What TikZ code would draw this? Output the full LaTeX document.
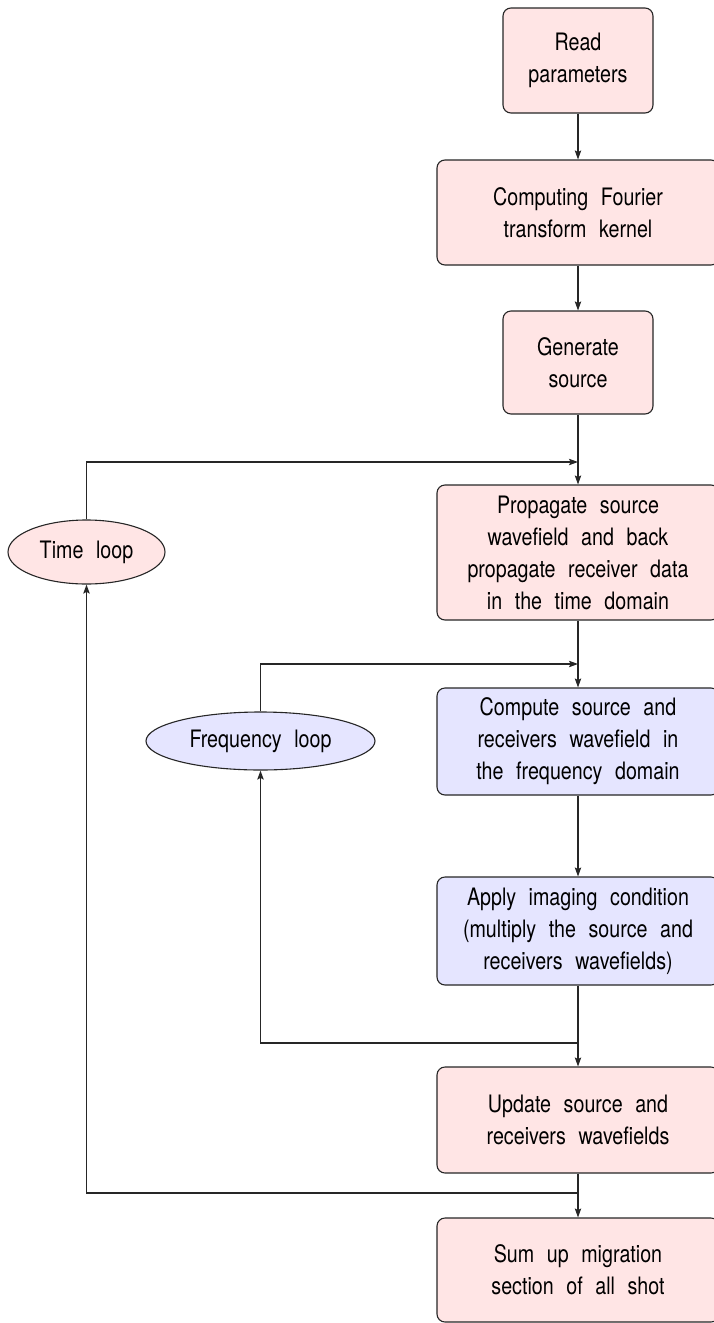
\documentclass[tikz,border=0pt]{standalone}
\usepackage{fontspec}
\setmainfont{TeX Gyre Heros}[FakeStretch=0.82,WordSpace=2.3]
\usetikzlibrary{shapes.geometric,arrows.meta}
\begin{document}
\begin{tikzpicture}[x=0.5pt,y=-0.5pt,
  font=\fontsize{12}{16}\selectfont,
  arr/.style={draw=black!85, line width=0.55pt, -{Stealth[length=4.5pt,width=3.2pt,inset=0.8pt]}},
  pbox/.style={rectangle, rounded corners=4pt, draw=black!85, line width=0.55pt, fill=red!10, align=center, inner sep=0pt},
  bbox/.style={pbox, fill=blue!10},
  loopell/.style={ellipse, draw=black!85, line width=0.55pt, inner sep=0pt}
]
\useasboundingbox (0,0) rectangle (713,1323);
\node[pbox, minimum width=75pt, minimum height=52.5pt] (b1) at (578,60.5) {Read\\parameters};
\node[pbox, minimum width=141pt, minimum height=52.5pt] (b2) at (578,212.5) {Computing Fourier\\transform kernel};
\node[pbox, minimum width=75pt, minimum height=51.5pt] (b3) at (578,362.5) {Generate\\source};
\node[pbox, minimum width=141pt, minimum height=67.5pt] (b4) at (578,552.5) {Propagate source\\wavefield and back\\propagate receiver data\\in the time domain};
\node[bbox, minimum width=141pt, minimum height=53.5pt] (b5) at (578,741.5) {Compute source and\\receivers wavefield in\\the frequency domain};
\node[bbox, minimum width=141pt, minimum height=54pt] (b6) at (578,931) {Apply imaging condition\\(multiply the source and\\receivers wavefields)};
\node[pbox, minimum width=141pt, minimum height=53pt] (b7) at (578,1120) {Update source and\\receivers wavefields};
\node[pbox, minimum width=141pt, minimum height=52pt] (b8) at (578,1270) {Sum up migration\\section of all shot};
\node[loopell, fill=red!10, minimum width=78.5pt, minimum height=32pt] (tl) at (86.5,552) {Time loop};
\node[loopell, fill=blue!10, minimum width=114.5pt, minimum height=29pt] (fl) at (260.5,741) {Frequency loop};
\coordinate (tjoin) at (578,462);
\coordinate (fjoin) at (578,664);
\coordinate (fret) at (578,1043);
\coordinate (tret) at (578,1193);
\draw[arr] (b1) -- (b2);
\draw[arr] (b2) -- (b3);
\draw[arr] (b3) -- (b4);
\draw[arr] (b4) -- (b5);
\draw[arr] (b5) -- (b6);
\draw[arr] (b6) -- (b7);
\draw[arr] (b7) -- (b8);
\draw[arr] (tl.north) |- (tjoin);
\draw[arr] (fl.north) |- (fjoin);
\draw[arr] (fret) -| (fl.south);
\draw[arr] (tret) -| (tl.south);
\end{tikzpicture}
\end{document}
